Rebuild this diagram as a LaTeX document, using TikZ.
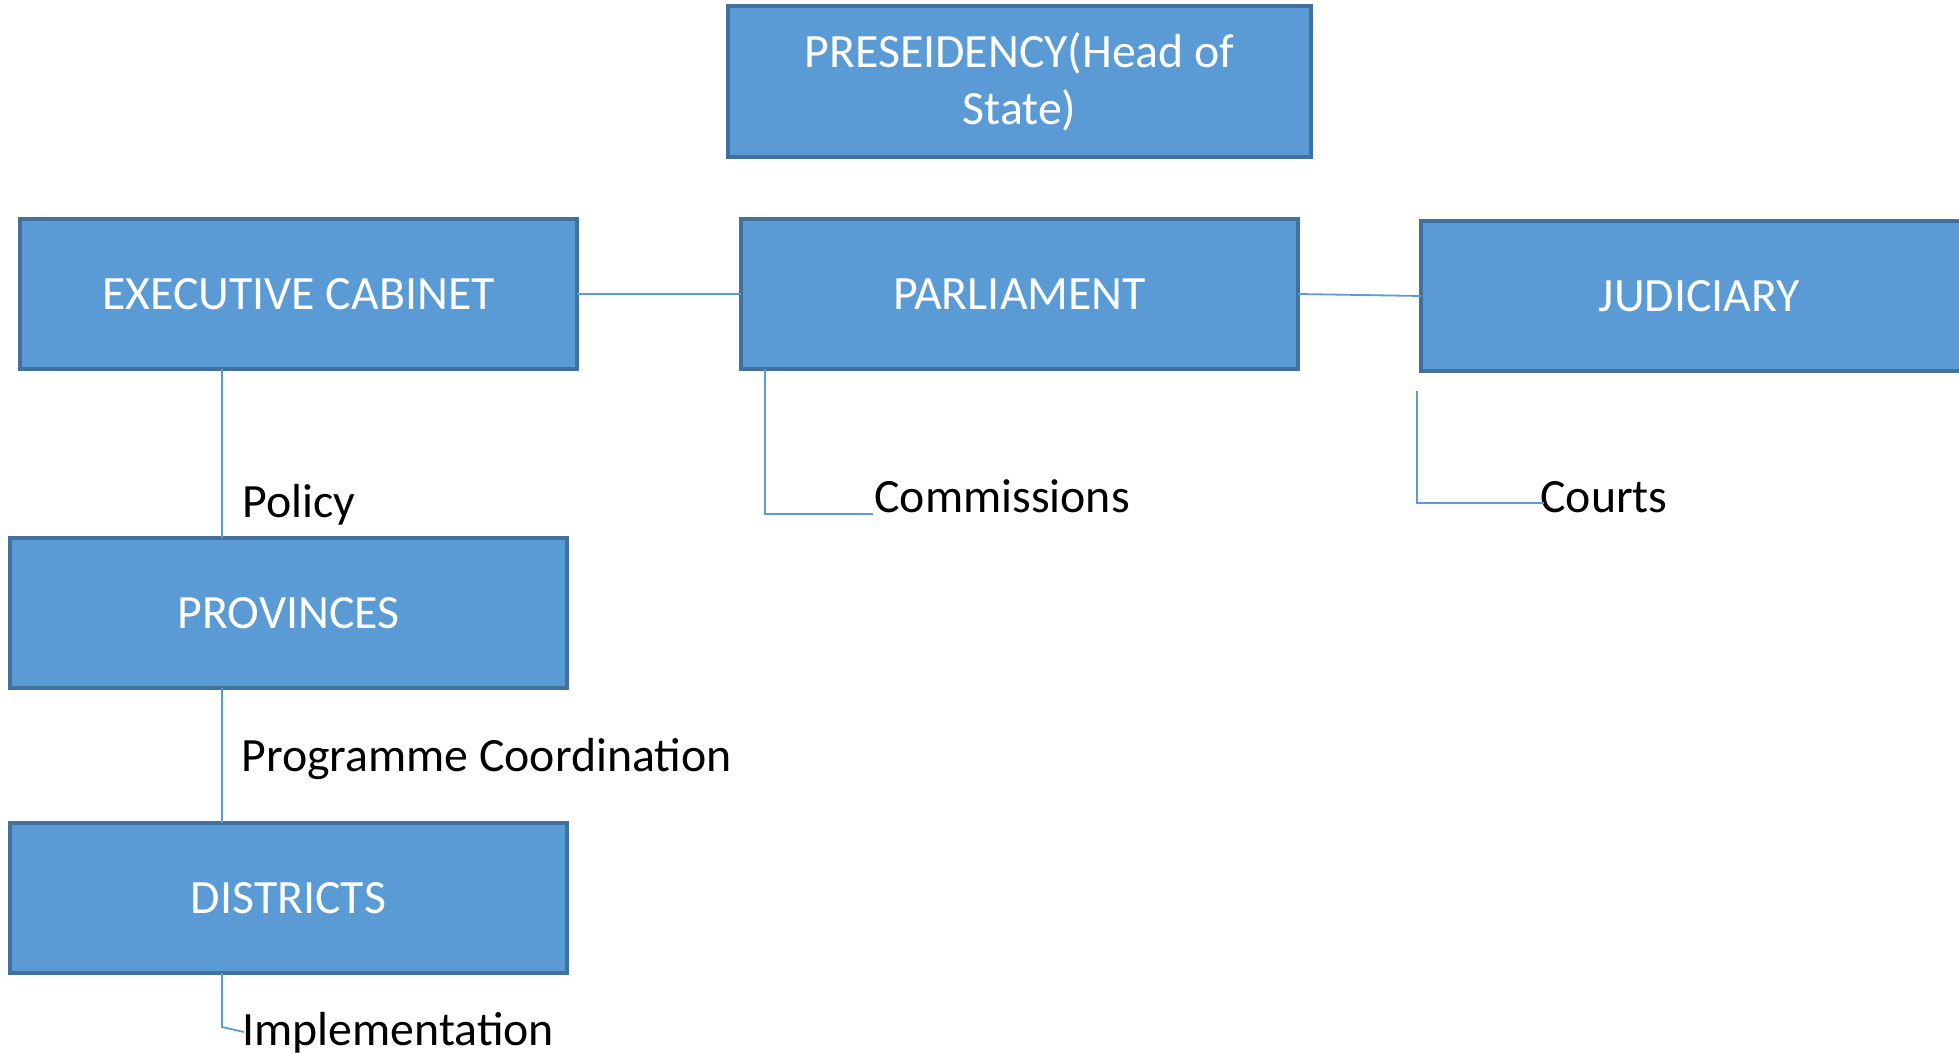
\documentclass[tikz,border=0pt]{standalone}
\usepackage{fontspec}
\setmainfont{Carlito}
\definecolor{boxfill}{HTML}{5B9BD5}
\definecolor{boxline}{HTML}{41719C}
\definecolor{conn}{HTML}{5B9BD5}
\begin{document}
\begin{tikzpicture}[x=0.5pt,y=-0.5pt,
  orgbox/.style={draw=boxline,line width=1.6pt,fill=boxfill,text=white,
    minimum width=278.5pt,minimum height=75pt,inner sep=0pt,outer sep=0pt,
    font=\fontsize{23.9pt}{28.6pt}\selectfont,align=center},
  lbl/.style={anchor=base west,inner sep=0pt,text=black,
    font=\fontsize{23.9pt}{28.6pt}\selectfont},
  link/.style={draw=conn,line width=0.9pt}]
\useasboundingbox (0,0) rectangle (1959,1053);
\clip (0,0) rectangle (1959,1053);
\fill[white] (0,0) rectangle (1959,1053);

\node[orgbox,minimum width=291.5pt,minimum height=75.5pt] (pres) at (1019.5,81.5) {PRESEIDENCY(Head of\\State)};
\node[orgbox] (exec) at (298.5,294) {EXECUTIVE CABINET};
\node[orgbox] (parl) at (1019.5,294) {PARLIAMENT};
\node[orgbox] (jud) at (1699.5,296) {JUDICIARY};
\node[orgbox] (prov) at (288.5,613) {PROVINCES};
\node[orgbox] (dist) at (288.5,898) {DISTRICTS};

\node[lbl] (policy) at (242,517) {Policy};
\node[lbl] (comm) at (874,512) {Commissions};
\node[lbl] (courts) at (1540,512) {Courts};
\node[lbl] (prog) at (241,771) {Programme Coordination};
\node[lbl] (impl) at (242,1045) {Implementation};

\coordinate (e1) at (222,369);
\coordinate (p1) at (222,538);
\coordinate (p2) at (222,688);
\coordinate (d1) at (222,823);
\coordinate (d2) at (222,973);
\coordinate (d3) at (222,1027);
\coordinate (d4) at (244,1032);
\coordinate (c1) at (765,369);
\coordinate (c2) at (765,514);
\coordinate (c3) at (873,514);
\coordinate (k1) at (1417,391);
\coordinate (k2) at (1417,503);
\coordinate (k3) at (1544,503);

\draw[link] (exec.east) -- (parl.west);
\draw[link] (parl.east) -- (jud.west);
\draw[link] (e1) -- (p1);
\draw[link] (p2) -- (d1);
\draw[link] (d2) -- (d3) -- (d4);
\draw[link] (c1) -- (c2) -- (c3);
\draw[link] (k1) -- (k2) -- (k3);
\end{tikzpicture}
\end{document}
